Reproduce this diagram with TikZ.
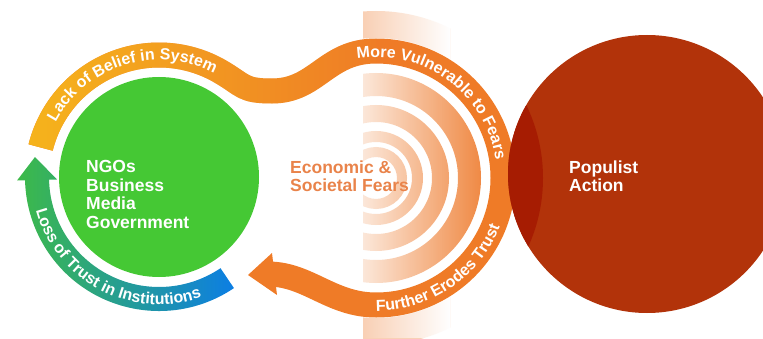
\documentclass[tikz,border=0pt]{standalone}
\usepackage{fontspec}
\setmainfont{Liberation Sans}
\usetikzlibrary{calc,decorations.text,fadings}

\definecolor{ngogreen}{HTML}{45C834}
\definecolor{beliefyellow}{HTML}{F6B41C}
\definecolor{fearorange}{HTML}{EF7B27}
\definecolor{ringorange}{HTML}{F08A45}
\definecolor{fearstext}{HTML}{E9834A}
\definecolor{trustgreen}{HTML}{3DBA48}
\definecolor{trustteal}{HTML}{17A98C}
\definecolor{trustblue}{HTML}{0C7EE4}
\definecolor{populistred}{HTML}{B2330A}
\definecolor{overlapred}{HTML}{A61C02}

\tikzfading[name=fade out east, left color=transparent!0, right color=transparent!100]
\tikzfading[name=fade in east, left color=transparent!100, right color=transparent!0]

\tikzset{
  band/.style={line width=25pt, fearorange},
  bandtext/.style={decorate, decoration={text along path, text color=white,
      text={|\fontsize{16}{16}\selectfont\bfseries|#1}}},
  blocktext/.style={inner sep=0pt, anchor=north west, align=left,
      font=\fontsize{17.5}{18.5}\selectfont\bfseries},
}

\begin{document}
\begin{tikzpicture}[x=1pt,y=1pt]
\useasboundingbox (0,0) rectangle (763,338);
\clip (0,0) rectangle (763,338);

\coordinate (G) at (159,161); % institutions
\coordinate (O) at (376,160); % fears
\coordinate (R) at (647,164); % populism
\coordinate (D) at (272,247); % dip of the upper arrow
\coordinate (T) at (376,287); % top of the fear ring
\coordinate (H) at (268,64);  % end of the lower arrow shaft
\coordinate (trust tip) at (35,181);

% Fear rings
\begin{scope}
\clip (363,50) rectangle (763,270);
\foreach \rin/\rout in {21/31,36/47,56/73,82/105}
  \draw[ringorange, line width={(\rout-\rin)*1pt}] (O) circle ({(\rin+\rout)/2});
\end{scope}
\foreach \ylo/\yhi in {0/50,270/338} {
  \begin{scope}
  \clip (363,\ylo) rectangle (450,\yhi);
  \draw[ringorange!40, line width=27pt] (O) circle (153.5);
  \end{scope}
  % the outer ring goes white to the right
  \fill[white, path fading=fade in east] (363,\ylo) rectangle (450,\yhi);
}
% the inner rings go white to the left
\fill[white, fill opacity=0.8, path fading=fade out east] (363,50) rectangle (481,270);

% Upper and lower arrow, one band round the fears
\draw[band] (G) ++(166:122) arc[start angle=166, end angle=60, radius=122]
  .. controls +(-30:28) and +(-30,0) .. (D)
  .. controls +(45,0) and +(-50,0) .. (T)
  arc[start angle=90, end angle=-90, radius=127]
  .. controls +(-45,0) and +(40,0) .. (H);
\fill[fearorange] (248,63) -- (272,85) -- (277,43) -- cycle;

% Yellow start of the upper arrow
\draw[band, beliefyellow, path fading=fade out east]
  (G) ++(166:122) arc[start angle=166, end angle=60, radius=122]
  .. controls +(-30:28) and +(-30,0) .. (D)
  .. controls +(45,0) and +(-50,0) .. (T);

% Loss of trust arrow
\shade[left color=trustgreen, middle color=trustteal, right color=trustblue]
  (G) ++(-56:134) arc[start angle=-56, end angle=-178.6, radius=134]
  -- ($(G)+(-178.6:142)$) -- (trust tip) -- ($(G)+(-178.6:102)$)
  -- ($(G)+(-178.6:110)$) arc[start angle=-178.6, end angle=-56, radius=110] -- cycle;

% Institutions
\fill[ngogreen] (G) circle (100);
\node[blocktext, white] (ngo) at (86,177.5) {NGOs\\Business\\Media\\Government};

% Populist action
\fill[populistred] (R) circle (139);
\begin{scope}
\clip (R) circle (139);
\fill[overlapred] (O) circle (167);
\end{scope}
\node[blocktext, white] (populist) at (569,177.5) {Populist\\Action};

\node[blocktext, fearstext] (fears) at (290,177.5) {Economic \&\\Societal Fears};

% Labels on the bands
\path[bandtext=Lack of Belief in System] (G) ++(152:117) arc[start angle=152, end angle=40, radius=117];
\path[bandtext=Loss of Trust in Institutions] (G) ++(195:127.5) arc[start angle=195, end angle=300, radius=127.5];
\path[bandtext=More Vulnerable to Fears] (O) ++(99:121) arc[start angle=99, end angle=0, radius=121];
\path[bandtext=Further Erodes Trust] (O) ++(270:133) arc[start angle=270, end angle=350, radius=133];
\end{tikzpicture}
\end{document}
